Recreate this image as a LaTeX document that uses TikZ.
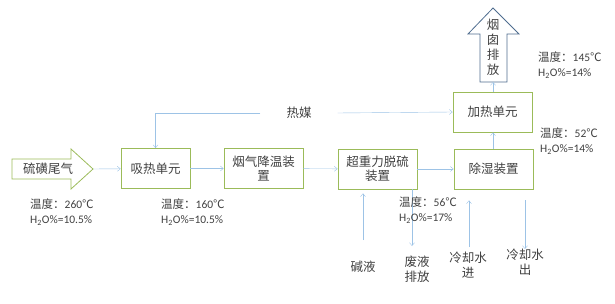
\documentclass[tikz,border=0pt]{standalone}
\usepackage{fontspec}
\setmainfont{Carlito}
\newfontfamily\cjk{Noto Sans CJK SC}
\usetikzlibrary{arrows.meta}
\definecolor{boxgreen}{HTML}{9BBB59}
\definecolor{flowblue}{HTML}{9DC3E6}
\definecolor{chimblue}{HTML}{4F6D8F}
\definecolor{txt}{HTML}{404040}

\begin{document}
\begin{tikzpicture}
[
	x=1pt, y=-1pt,
	unit/.style={draw=boxgreen,thick,minimum width=79pt,minimum height=40pt,inner sep=1pt,align=center,font=\cjk\fontsize{12.5}{14}\selectfont,text=txt},
	flow/.style={draw=flowblue,-{Straight Barb[length=3pt,width=5pt]}},
	info/.style={anchor=north west,align=left,inner sep=0pt,font=\fontsize{11.5}{14.5}\selectfont,text=txt},
	side/.style={align=center,inner sep=0pt,font=\cjk\fontsize{12.5}{15}\selectfont,text=txt}
]
	\useasboundingbox (0,0) rectangle (615,304);

	% inlet arrow
	\draw[boxgreen,thick] (12,159) -- (71,159) -- (71,149) -- (93,169) -- (71,189) -- (71,179) -- (12,179) -- cycle;
	\node[side] (gas) at (48,169) {硫磺尾气};
	\coordinate (gastip) at (93,169);

	% units
	\node[unit,minimum width=69pt] (absorb) at (155.5,168.5) {吸热单元};
	\node[unit] (cool) at (263.5,168.5) {烟气降温装\\置};
	\node[unit] (desulf) at (377.5,169) {超重力脱硫\\装置};
	\node[unit] (dehum) at (493.5,169) {除湿装置};
	\node[unit] (heat) at (492.5,112) {加热单元};

	% chimney
	\draw[chimblue,thick] (480,82) -- (480,34) -- (468,34) -- (493,8) -- (519,34) -- (507,34) -- (507,82) -- cycle;
	\node[side] (stack) at (493,47) {烟\\囱\\排\\放};
	\coordinate (stackin) at (493,82);

	% main flow
	\draw[flow] (gastip) -- (absorb);
	\draw[flow] (absorb) -- (cool);
	\draw[flow] (cool) -- (desulf);
	\draw[flow] (desulf) -- (dehum);
	\draw[flow] (dehum.north -| stackin) -- (heat.south -| stackin);
	\draw[flow] (heat.north -| stackin) -- (stackin);

	% heat medium
	\node[side,inner xsep=26pt] (medium) at (299,113) {热媒};
	\draw[flow] (medium.west) -| (absorb.north);
	\draw[flow] (medium.east) -- (heat.west);

	% bottom streams
	\node[side] (alkali) at (363,267) {碱液};
	\node[side] (waste) at (417,269) {废液\\排放};
	\node[side] (cwin) at (468,265) {冷却水\\进};
	\node[side] (cwout) at (525,262) {冷却水\\出};
	\coordinate (alkalitop) at (363,240);
	\coordinate (wastebot) at (412,246);
	\coordinate (cwintop) at (469,247);
	\coordinate (cwoutbot) at (525,249);
	\draw[flow,shorten >=4pt] (alkalitop) -- (alkalitop |- desulf.south);
	\draw[flow] (wastebot |- desulf.south) -- (wastebot);
	\draw[flow,shorten >=11pt] (cwintop) -- (cwintop |- dehum.south);
	\draw[flow,shorten <=11pt] (cwoutbot |- dehum.south) -- (cwoutbot);

	% conditions
	\node[info] (t1) at (30,199) {{\cjk 温度：}260{\cjk ℃}\\H\textsubscript{2}O\%=10.5\%};
	\node[info] (t2) at (161,199) {{\cjk 温度：}160{\cjk ℃}\\H\textsubscript{2}O\%=10.5\%};
	\node[info] (t3) at (399,197) {{\cjk 温度：}56{\cjk ℃}\\H\textsubscript{2}O\%=17\%};
	\node[info] (t4) at (540,128) {{\cjk 温度：}52{\cjk ℃}\\H\textsubscript{2}O\%=14\%};
	\node[info] (t5) at (538,52) {{\cjk 温度：}145{\cjk ℃}\\H\textsubscript{2}O\%=14\%};

\end{tikzpicture}
\end{document}
